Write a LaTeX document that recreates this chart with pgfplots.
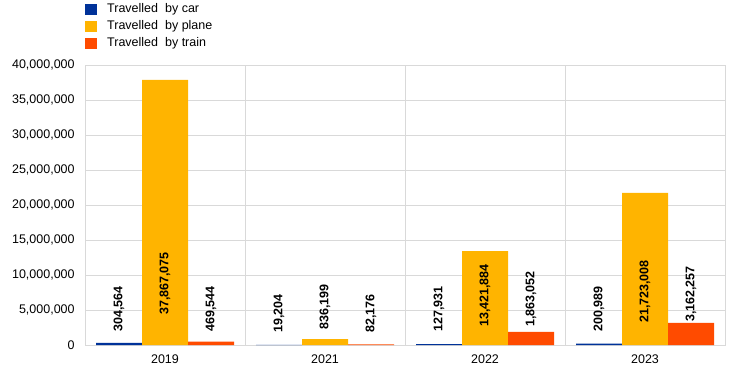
\documentclass[border=0pt]{standalone}
\usepackage{pgfplots}
\pgfplotsset{compat=1.18}
\usepackage{fontspec}
\setmainfont{Liberation Sans}
\definecolor{car}{HTML}{003299}
\definecolor{plane}{HTML}{FFB400}
\definecolor{train}{HTML}{FF4B00}
\definecolor{gridc}{HTML}{D9D9D9}
\begin{document}
\fontsize{12.5bp}{14bp}\selectfont
\begin{tikzpicture}[x=1bp,y=1bp]
\path[use as bounding box] (0,0) rectangle (745,373);
\begin{axis}[
 at={(85bp,28bp)}, anchor=south west,
 scale only axis, width=640bp, height=280bp,
 xmin=-0.5, xmax=3.5, ymin=0, ymax=40000000,
 xtick={0,1,2,3}, xticklabels={2019,2021,2022,2023},
 minor xtick={-0.5,0.5,1.5,2.5,3.5}, xminorgrids,
 minor grid style={gridc, line width=0.8bp},
 ytick={0,5000000,10000000,15000000,20000000,25000000,30000000,35000000,40000000},
 ymajorgrids, major grid style={gridc, line width=0.8bp},
 axis line style={gridc, line width=0.8bp},
 major tick length=0pt, minor tick length=0pt,
 scaled y ticks=false,
 yticklabel style={/pgf/number format/fixed, /pgf/number format/precision=0,
   /pgf/number format/1000 sep={,}, /pgf/number format/assume math mode=true, xshift=-6bp},
 ticklabel style={font=\fontsize{12.5bp}{14bp}\selectfont},
 xticklabel style={yshift=-5bp},
 legend style={at={(0,1.23)}, anchor=north west, draw=none, fill=none, inner sep=0pt,
   font=\fontsize{12.5bp}{14bp}\selectfont, row sep=0pt, column sep=0pt,
   nodes={inner xsep=4bp, inner ysep=2.5bp, text height=9bp, text depth=3bp}},
 legend cell align=left,
]
\addplot[ybar, bar width=0.2875, bar shift=-0.2875, fill=car, draw=none,
  legend image code/.code={\fill[car] (0bp,-5.5bp) rectangle (11.5bp,5.5bp); \path (18bp,0);}]
  coordinates {(0,304564) (1,19204) (2,127931) (3,200989)};
\addlegendentry{Travelled\ \ by car}
\addplot[ybar, bar width=0.2875, bar shift=0, fill=plane, draw=none,
  legend image code/.code={\fill[plane] (0bp,-5.5bp) rectangle (11.5bp,5.5bp); \path (18bp,0);}]
  coordinates {(0,37867075) (1,836199) (2,13421884) (3,21723008)};
\addlegendentry{Travelled\ \ by plane}
\addplot[ybar, bar width=0.2875, bar shift=0.2875, fill=train, draw=none,
  legend image code/.code={\fill[train] (0bp,-5.5bp) rectangle (11.5bp,5.5bp); \path (18bp,0);}]
  coordinates {(0,469544) (1,82176) (2,1863052) (3,3162257)};
\addlegendentry{Travelled\ \ by train}
\addplot[only marks, mark=none, forget plot, nodes near coords, point meta=explicit symbolic,
  nodes near coords style={rotate=90, anchor=west, inner sep=0pt, font=\fontsize{12.5bp}{14bp}\selectfont\bfseries}]
  table[meta=lab] {
x y lab
-0.2875 1860000 304,564
0 4290000 37,867,075
0.2875 1860000 469,544
0.7125 1710000 19,204
1 2140000 836,199
1.2875 1710000 82,176
1.7125 1860000 127,931
2 2570000 13,421,884
2.2875 2570000 1,863,052
2.7125 1860000 200,989
3 3140000 21,723,008
3.2875 3290000 3,162,257
};
\end{axis}
\end{tikzpicture}
\end{document}
